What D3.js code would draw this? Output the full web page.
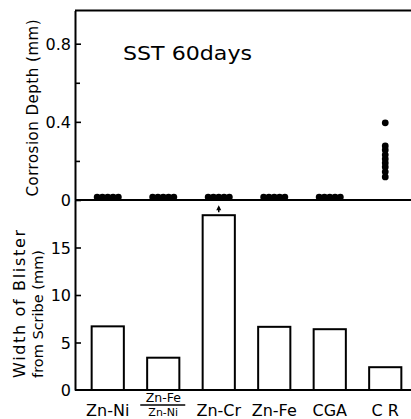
<!DOCTYPE html>
<html><head><meta charset="utf-8">
<script src="https://cdn.jsdelivr.net/npm/d3@7"></script>
<style>body{margin:0;background:#fff}svg{display:block}text{font-family:"DejaVu Sans",sans-serif;fill:#000}</style>
</head><body><svg id="c" width="411" height="419"></svg>
<script>
// ---- data ----
const categories = ["Zn-Ni", "Zn-Fe/Zn-Ni", "Zn-Cr", "Zn-Fe", "CGA", "CR"];
const blisterWidth = [6.7, 3.4, 18.4, 6.65, 6.4, 2.4];
const depthZnNi = [0.015, 0.015, 0.015, 0.015, 0.015];
const depthZnFeZnNi = [0.015, 0.015, 0.015, 0.015, 0.015];
const depthZnCr = [0.015, 0.015, 0.015, 0.015, 0.015];
const depthZnFe = [0.015, 0.015, 0.015, 0.015, 0.015];
const depthCGA = [0.015, 0.015, 0.015, 0.015, 0.015];
const depthCR = [0.395, 0.277, 0.256, 0.231, 0.21, 0.19, 0.169, 0.144, 0.118];
const depthTicks = [0, 0.4, 0.8];
const depthMinor = [0.2, 0.6];
const blisterTicks = [0, 5, 10, 15];
const exceeds = ["Zn-Cr"];

const depthSets = [depthZnNi, depthZnFeZnNi, depthZnCr, depthZnFe, depthCGA, depthCR];

const svg = d3.select("#c");
const left = 75, right = 411;
const x = d3.scaleBand().domain(categories).range([80, 413]).paddingInner(0.42).paddingOuter(0.21);
const yTop = d3.scaleLinear().domain([0, 0.97]).range([200, 10.5]);
const yBot = d3.scaleLinear().domain([0, 20]).range([390, 200]);

// frame lines
const frame = svg.append("g").attr("stroke", "#000").attr("stroke-width", 2).attr("fill", "none");
frame.append("line").attr("x1", left).attr("x2", right).attr("y1", yTop(0.97)).attr("y2", yTop(0.97));
frame.append("line").attr("x1", left).attr("x2", right).attr("y1", yTop(0)).attr("y2", yTop(0));
frame.append("line").attr("x1", left).attr("x2", right).attr("y1", yBot(0)).attr("y2", yBot(0));

// axes
function styleAxis(g) {
  g.selectAll("path").attr("stroke", "#000").attr("stroke-width", 2);
  g.selectAll("line").attr("stroke", "#000").attr("stroke-width", 1.6);
  g.selectAll("text").attr("font-size", 16).attr("font-family", "DejaVu Sans").attr("x", -4);
}
svg.append("g").attr("transform", `translate(${left},0)`)
  .call(d3.axisLeft(yTop).tickValues(depthTicks).tickSizeInner(-6).tickSizeOuter(0).tickPadding(4)
    .tickFormat(d => d === 0 ? "0" : d3.format(".1f")(d)))
  .call(styleAxis);
svg.append("g").attr("transform", `translate(${left},0)`)
  .call(d3.axisLeft(yTop).tickValues(depthMinor).tickSizeInner(-5).tickSizeOuter(0).tickFormat(""))
  .call(g => g.select("path").remove()).call(styleAxis);
svg.append("g").attr("transform", `translate(${left},0)`)
  .call(d3.axisLeft(yBot).tickValues(blisterTicks).tickSizeInner(-6).tickSizeOuter(0).tickPadding(4)
    .tickFormat(d3.format("d")))
  .call(styleAxis)
  .call(g => g.selectAll(".tick").filter(d => d === 0).select("line").remove());
svg.selectAll(".tick text").attr("dy", "0.36em");

// bars
svg.append("g").selectAll("rect").data(categories).join("rect")
  .attr("x", d => x(d)).attr("width", x.bandwidth())
  .attr("y", (d, i) => yBot(blisterWidth[i])).attr("height", (d, i) => yBot(0) - yBot(blisterWidth[i]))
  .attr("fill", "#fff").attr("stroke", "#000").attr("stroke-width", 2);

// arrow for off-scale bar
exceeds.forEach(c => {
  const i = categories.indexOf(c);
  const cx = x(c) + x.bandwidth() / 2, top = yBot(blisterWidth[i]);
  svg.append("line").attr("x1", cx).attr("x2", cx).attr("y1", top - 3).attr("y2", top - 8)
    .attr("stroke", "#000").attr("stroke-width", 1.5);
  svg.append("path").attr("d", `M${cx - 2.5},${top - 5}L${cx},${top - 10}L${cx + 2.5},${top - 5}Z`).attr("fill", "#000");
});

// dots
const dots = [];
depthSets.forEach((vals, ci) => {
  const horizontal = d3.max(vals) < 0.05;
  vals.forEach((v, j) => {
    const off = horizontal ? (j - (vals.length - 1) / 2) * 5.3 : 0;
    dots.push({c: categories[ci], v, off});
  });
});
svg.append("g").selectAll("circle").data(dots).join("circle")
  .attr("cx", d => x(d.c) + x.bandwidth() / 2 + d.off)
  .attr("cy", d => yTop(d.v)).attr("r", 3.4).attr("fill", "#000");

// title inside
svg.append("text").attr("x", 123).attr("y", 60).attr("font-size", 20)
  .attr("textLength", 129).attr("lengthAdjust", "spacingAndGlyphs").text("SST 60days");

// y axis titles
svg.append("text").attr("transform", "translate(38,108) rotate(-90)").attr("text-anchor", "middle")
  .attr("font-size", 15).attr("textLength", 177).attr("lengthAdjust", "spacing").text("Corrosion  Depth (mm)");
svg.append("text").attr("transform", "translate(25,304) rotate(-90)").attr("text-anchor", "middle")
  .attr("font-size", 16).attr("textLength", 148).attr("lengthAdjust", "spacing").text("Width  of  Blister");
svg.append("text").attr("transform", "translate(43,314) rotate(-90)").attr("text-anchor", "middle")
  .attr("font-size", 14.5).text("from  Scribe (mm)");

// x labels
categories.forEach(c => {
  const cx = x(c) + x.bandwidth() / 2;
  if (c.includes("/")) {
    const [num, den] = c.split("/");
    svg.append("text").attr("x", cx).attr("y", 402).attr("text-anchor", "middle").attr("font-size", 12.5).text(num);
    svg.append("line").attr("x1", cx - 23).attr("x2", cx + 22).attr("y1", 405).attr("y2", 405)
      .attr("stroke", "#000").attr("stroke-width", 1.3);
    svg.append("text").attr("x", cx).attr("y", 416).attr("text-anchor", "middle").attr("font-size", 11).text(den);
  } else {
    svg.append("text").attr("x", cx).attr("y", 416).attr("text-anchor", "middle").attr("font-size", 16)
      .text(c === "CR" ? "C R" : c);
  }
});
</script></body></html>
